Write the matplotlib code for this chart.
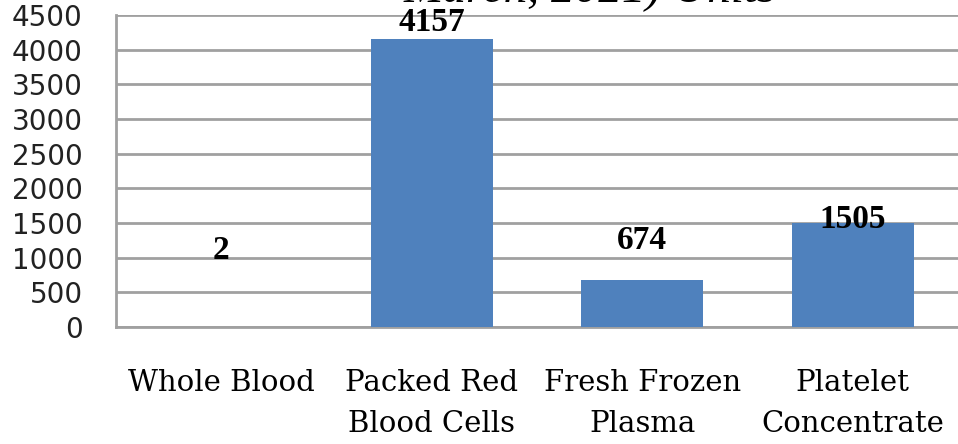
import matplotlib
matplotlib.use("Agg")
import matplotlib.pyplot as plt

categories = ["Whole Blood", "Packed Red\nBlood Cells", "Fresh Frozen\nPlasma", "Platelet\nConcentrate"]
values = [2, 4157, 674, 1505]
label_y = [1110, 4400, 1255, 1545]
yticks = [0, 500, 1000, 1500, 2000, 2500, 3000, 3500, 4000, 4500]
title = "March, 2021) Units"

fig = plt.figure(figsize=(9.58, 4.44), dpi=100)
ax = fig.add_axes([0.121, 0.2635, 0.879, 0.7025])
x = list(range(len(categories)))
ax.bar(x, values, width=0.58, color="#4F81BD", zorder=3)
ax.set_xlim(-0.5, len(categories) - 0.5)
ax.set_ylim(0, 4500)
ax.set_yticks(yticks)
ax.set_yticklabels([str(t) for t in yticks], fontsize=20, family="DejaVu Sans",
                   color="#222222")
ax.set_xticks(x)
ax.set_xticklabels(categories, fontsize=21, family="DejaVu Serif", linespacing=1.6)
ax.tick_params(axis="x", length=0, pad=30)
ax.tick_params(axis="y", length=0, pad=24)
ax.yaxis.grid(True, color="#A0A0A0", linewidth=2, zorder=0)
for s in ["top", "right"]:
    ax.spines[s].set_visible(False)
for s in ["left", "bottom"]:
    ax.spines[s].set_color("#A0A0A0")
    ax.spines[s].set_linewidth(2)
for xi, v, ly in zip(x, values, label_y):
    ax.text(xi, ly, str(v), ha="center", va="center", fontsize=24,
            family="Liberation Serif", fontweight="bold", zorder=4)
fig.text(0.616, 1.0 - 2 / 444, title, ha="center", va="baseline", fontsize=34,
         family="Liberation Serif", style="italic")
fig.savefig("out.png", dpi=100)
